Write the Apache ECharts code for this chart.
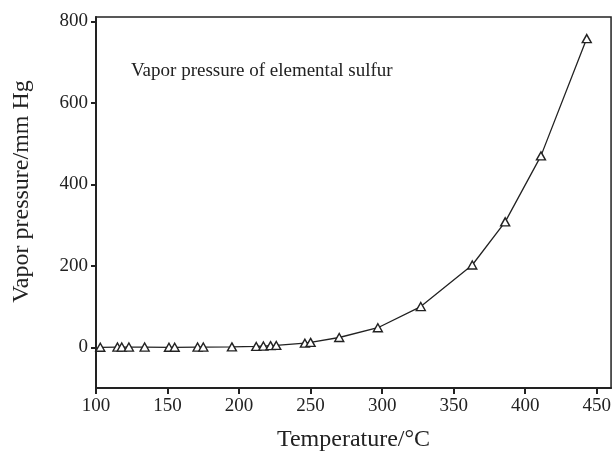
<!DOCTYPE html>
<html>
<head>
<meta charset="utf-8">
<script src="https://cdn.jsdelivr.net/npm/echarts@6/dist/echarts.min.js"></script>
<style>
  html, body { margin: 0; padding: 0; background: #fff; }
  #chart { width: 614px; height: 457px; }
</style>
</head>
<body>
<div id="chart"></div>
<script>
// Vapor pressure of elemental sulfur vs. temperature
const temperatures = [103, 115, 118, 123, 134, 151, 155, 171, 175, 195, 212, 217, 222, 226, 246, 250, 270, 297, 327, 363, 386, 411, 443];
const pressures    = [0, 0.5, 0.5, 0.5, 0.5, 0, 0, 0.5, 0.5, 1, 2, 3, 4, 4.5, 10, 12, 24, 48, 100, 202, 308, 470, 758];
const xTicks = [100, 150, 200, 250, 300, 350, 400, 450];
const yTicks = [0, 200, 400, 600, 800];

const points = temperatures.map((t, i) => [t, pressures[i]]);
const serif = '"Liberation Serif", "Times New Roman", serif';
const ink = '#222';

const chart = echarts.init(document.getElementById('chart'));
chart.setOption({
  animation: false,
  backgroundColor: '#fff',
  grid: {
    left: 96, right: 2, top: 17, bottom: 68,
    show: true, borderColor: ink, borderWidth: 1.5, backgroundColor: 'transparent'
  },
  xAxis: {
    type: 'value', min: 100, max: 460,
    name: 'Temperature/°C', nameLocation: 'middle', nameGap: 40,
    nameTextStyle: { fontFamily: serif, fontSize: 24, color: ink },
    axisLine: { show: true, onZero: false, lineStyle: { color: ink, width: 2 } },
    axisTick: { show: true, inside: false, length: 6, lineStyle: { color: ink, width: 2 }, customValues: xTicks },
    axisLabel: { fontFamily: serif, fontSize: 19, color: ink, margin: 9, customValues: xTicks },
    splitLine: { show: false }
  },
  yAxis: {
    type: 'value', min: -100, max: 811,
    name: 'Vapor pressure/mm Hg', nameLocation: 'middle', nameGap: 62,
    nameTextStyle: { fontFamily: serif, fontSize: 24, color: ink, padding: [0, 0, 0, 22] },
    axisLine: { show: true, onZero: false, lineStyle: { color: ink, width: 2 } },
    axisTick: { show: true, inside: false, length: 5, lineStyle: { color: ink, width: 2 }, customValues: yTicks },
    axisLabel: { fontFamily: serif, fontSize: 19, color: ink, margin: 8, customValues: yTicks },
    splitLine: { show: false }
  },
  graphic: [{
    type: 'text', left: 131, top: 62,
    style: { text: 'Vapor pressure of elemental sulfur', fontFamily: serif, fontSize: 19, fill: ink }
  }],
  series: [{
    type: 'line',
    data: points,
    symbol: 'triangle',
    symbolSize: [9, 8],
    showAllSymbol: true,
    lineStyle: { color: ink, width: 1.3 },
    itemStyle: { color: '#fff', borderColor: ink, borderWidth: 1.4 }
  }]
});
</script>
</body>
</html>
